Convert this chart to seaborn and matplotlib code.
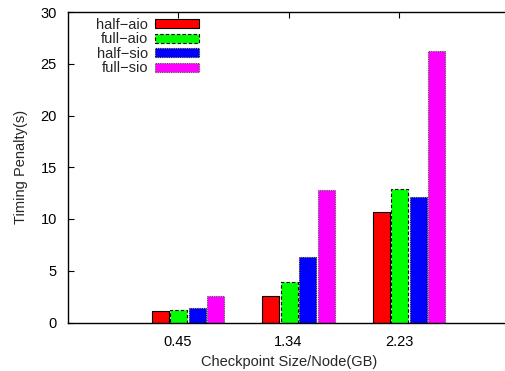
import pandas as pd
import matplotlib
matplotlib.use("Agg")
import matplotlib.pyplot as plt
from matplotlib.patches import Patch
import seaborn as sns

# values
sizes = ["0.45", "1.34", "2.23"]
methods = ["half\u2212aio", "full\u2212aio", "half\u2212sio", "full\u2212sio"]
half_aio = [1.11, 2.56, 10.7]
full_aio = [1.21, 3.94, 12.9]
half_sio = [1.40, 6.36, 12.15]
full_sio = [2.59, 12.8, 26.2]
y_ticks = [0, 5, 10, 15, 20, 25, 30]

colors = ["#ff0000", "#00ff00", "#0000ff", "#ff00ff"]
edge_styles = [
    ("black", "-"),
    ("black", (0, (3, 2))),
    ("#202020", (0, (1, 1))),
    ("#505050", (0, (1, 1))),
]

rows = []
for m, vals in zip(methods, [half_aio, full_aio, half_sio, full_sio]):
    for s, v in zip(sizes, vals):
        rows.append({"size": s, "method": m, "penalty": v})
df = pd.DataFrame(rows)

sns.set_theme(style="ticks")
plt.rcParams["font.family"] = ["Liberation Sans", "DejaVu Sans"]

fig = plt.figure(figsize=(5.06, 3.71), dpi=100)
# axes right edge falls just outside the canvas, like the reference crop
ax = fig.add_axes([68 / 506, 1 - 322.5 / 371, (511 - 68) / 506, (322.5 - 12) / 371])

sns.barplot(data=df, x="size", y="penalty", hue="method", order=sizes,
            hue_order=methods, palette=colors, width=0.67, gap=0.1,
            saturation=1, ax=ax, legend=False)

# per-series edge styles
for cont, (ec, ls) in zip(ax.containers, edge_styles):
    for bar in cont:
        bar.set_edgecolor(ec)
        bar.set_linestyle(ls)
        bar.set_linewidth(0.8)

ax.set_xlim(-1.086, 2.923)
ax.set_ylim(0, 30)
ax.set_yticks(y_ticks)
ax.set_xticks([i - 0.09 for i in range(len(sizes))])
ax.set_xticklabels(sizes)

ax.set_xlabel("Checkpoint Size/Node(GB)", fontsize=10.5, labelpad=4)
ax.set_ylabel("Timing Penalty(s)", fontsize=10.5, labelpad=9)
ax.tick_params(axis="both", direction="in", length=4, width=0.8,
               labelsize=10.5, colors="black", top=True, right=True)
ax.tick_params(axis="y", pad=8)
ax.tick_params(axis="x", pad=9)
for sp in ax.spines.values():
    sp.set_linewidth(1.0)
    sp.set_color("black")
    sp.set_visible(True)

handles = [Patch(facecolor=c, edgecolor=ec, linestyle=ls, linewidth=0.8)
           for c, (ec, ls) in zip(colors, edge_styles)]
ax.legend(handles, methods, loc="upper right", markerfirst=False, frameon=False,
          bbox_to_anchor=(199 / 506, 1 - 18 / 371), bbox_transform=fig.transFigure,
          borderaxespad=0, borderpad=0, handlelength=3.0, handleheight=0.55,
          labelspacing=0.03, handletextpad=0.5, fontsize=10.5)

fig.savefig("out.png", dpi=100)
